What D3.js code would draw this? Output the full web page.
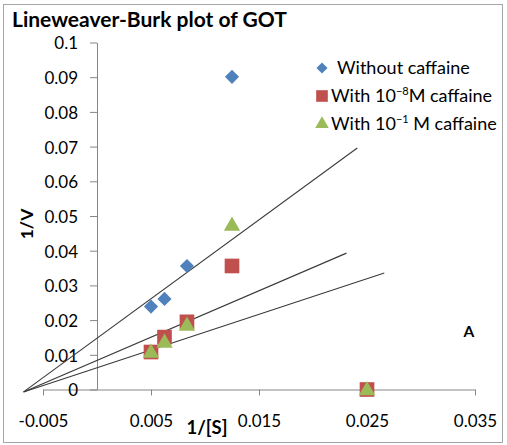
<!DOCTYPE html>
<html><head><meta charset="utf-8">
<script src="https://cdn.jsdelivr.net/npm/d3@7"></script>
<style>
html,body{margin:0;padding:0;background:#fff;}
svg{display:block;}
text{font-family:Lato,"Open Sans",sans-serif;fill:#000;}
</style></head>
<body>
<svg id="c" width="507" height="445"></svg>
<script>
const xValues = [0.005, 0.00625, 0.00833, 0.0125, 0.025];
const withoutCaffeine = [0.0239, 0.0261, 0.0356, 0.0901, null];
const caffeine1e8 = [0.0108, 0.0151, 0.0195, 0.0356, 0];
const caffeine1e1 = [0.0108, 0.0137, 0.0186, 0.0474, 0];
const trendX = [[-0.0068, 0.0241], [-0.0068, 0.0231], [-0.0068, 0.0266]];
const trendY = [[-0.0007, 0.0696], [-0.0007, 0.0393], [-0.0007, 0.0336]];
const xTicks = [-0.005, 0.005, 0.015, 0.025, 0.035];
const xTickLabels = ["-0.005", "0.005", "0.015", "0.025", "0.035"];
const yTicks = [0, 0.01, 0.02, 0.03, 0.04, 0.05, 0.06, 0.07, 0.08, 0.09, 0.1];
const yTickLabels = ["0", "0.01", "0.02", "0.03", "0.04", "0.05", "0.06", "0.07", "0.08", "0.09", "0.1"];
const seriesNames = ["Without caffaine", "With 10", "With 10"];

const svg = d3.select("#c");
svg.append("rect").attr("x", 3.5).attr("y", 4.5).attr("width", 499).attr("height", 438)
  .attr("fill", "#fff").attr("stroke", "#a6a6a6").attr("stroke-width", 1);

const x = d3.scaleLinear().domain([-0.005, 0.035]).range([43, 475]);
const y = d3.scaleLinear().domain([0, 0.1]).range([389.5, 42.5]);

const axisColor = "#868686";
const tickFont = 17;
// X axis
const gx = svg.append("g").attr("transform", `translate(0,${y(0)})`)
  .call(d3.axisBottom(x).tickValues(xTicks).tickFormat((d, i) => xTickLabels[i]).tickSize(6).tickSizeOuter(0).tickPadding(19));
gx.select(".domain").attr("stroke", axisColor);
gx.selectAll(".tick line").attr("stroke", axisColor);
gx.selectAll(".tick text").attr("font-family", "Lato").attr("font-size", tickFont).attr("fill", "#000");

// Y axis
const gy = svg.append("g").attr("transform", `translate(${x(0)},0)`)
  .call(d3.axisLeft(y).tickValues(yTicks).tickFormat((d, i) => yTickLabels[i]).tickSize(7).tickSizeOuter(0).tickPadding(12));
gy.select(".domain").attr("stroke", axisColor);
gy.selectAll(".tick line").attr("stroke", axisColor);
gy.selectAll(".tick text").attr("font-family", "Lato").attr("font-size", tickFont).attr("fill", "#000").attr("dy", "0.38em");

// Trendlines
trendX.forEach((tx, i) => {
  svg.append("line")
    .attr("x1", x(tx[0])).attr("y1", y(trendY[i][0]))
    .attr("x2", x(tx[1])).attr("y2", y(trendY[i][1]))
    .attr("stroke", "#3a3a3a").attr("stroke-width", 1.1);
});

const blue = "#4F81BD", red = "#C0504D", green = "#9BBB59";
const diamond = d3.symbol().type(d3.symbolSquare).size(100);
const square = d3.symbol().type(d3.symbolSquare).size(215);
const tri = d3.symbol().type(d3.symbolTriangle).size(115);

// Series markers
svg.append("g").selectAll("path")
  .data(xValues.map((v, i) => [v, withoutCaffeine[i]]).filter(d => d[1] !== null))
  .join("path").attr("d", diamond)
  .attr("transform", d => `translate(${x(d[0])},${y(d[1])}) rotate(45)`).attr("fill", blue);
svg.append("g").selectAll("path")
  .data(xValues.map((v, i) => [v, caffeine1e8[i]]))
  .join("path").attr("d", square)
  .attr("transform", d => `translate(${x(d[0])},${y(d[1])})`).attr("fill", red);
svg.append("g").selectAll("path")
  .data(xValues.map((v, i) => [v, caffeine1e1[i]]))
  .join("path").attr("d", tri)
  .attr("transform", d => `translate(${x(d[0])},${y(d[1]) + 1})`).attr("fill", green);

// Title
svg.append("text").attr("x", 12).attr("y", 27).attr("font-size", 21).attr("font-weight", "bold")
  .text("Lineweaver-Burk plot of GOT");

// Axis titles
svg.append("text").attr("transform", "translate(33,224) rotate(-90)").attr("text-anchor", "middle")
  .attr("font-size", 17.5).attr("font-weight", "bold").text("1/V");
svg.append("text").attr("x", 207).attr("y", 434).attr("text-anchor", "middle")
  .attr("font-size", 18.5).attr("font-weight", "bold").text("1/[S]");

// Panel letter
svg.append("text").attr("x", 469).attr("y", 337).attr("text-anchor", "middle")
  .attr("font-size", 15.5).attr("font-weight", "bold").text("A");

// Legend
const legFont = 18;
const lg = svg.append("g");
lg.append("path").attr("d", d3.symbol().type(d3.symbolSquare).size(62)).attr("transform", "translate(322,68) rotate(45)").attr("fill", blue);
lg.append("text").attr("x", 337).attr("y", 74).attr("font-size", legFont).text(seriesNames[0]);
lg.append("path").attr("d", d3.symbol().type(d3.symbolSquare).size(135)).attr("transform", "translate(322,96)").attr("fill", red);
const t2 = lg.append("text").attr("x", 331).attr("y", 102).attr("font-size", legFont);
t2.append("tspan").text(seriesNames[1]);
t2.append("tspan").attr("dy", -7).attr("font-size", 11).text("\u2212" + "8");
t2.append("tspan").attr("dy", 7).text("M caffaine");
lg.append("path").attr("d", d3.symbol().type(d3.symbolTriangle).size(80)).attr("transform", "translate(322,124)").attr("fill", green);
const t3 = lg.append("text").attr("x", 331).attr("y", 130).attr("font-size", legFont);
t3.append("tspan").text(seriesNames[2]);
t3.append("tspan").attr("dy", -7).attr("font-size", 11).text("\u2212" + "1");
t3.append("tspan").attr("dy", 7).text(" M caffaine");
</script>
</body></html>
